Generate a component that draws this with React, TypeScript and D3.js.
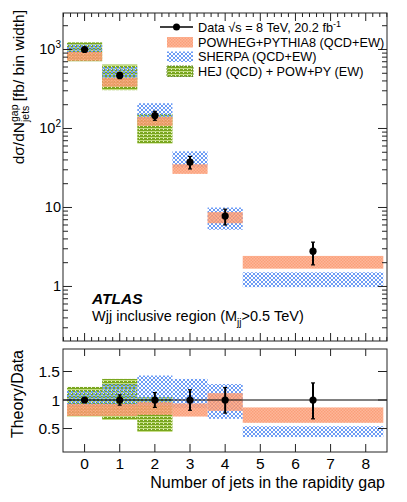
import React from 'react';
import * as d3 from 'd3';

// ---------- data ----------
const binLo = [-0.5, 0.5, 1.5, 2.5, 3.5, 4.5];
const binHi = [0.5, 1.5, 2.5, 3.5, 4.5, 8.5];
const binCenter = [0, 1, 2, 3, 4, 6.5];
const dataValues = [1000, 470, 146, 37.5, 7.8, 2.8];
const dataErrUp = [0.03, 0.09, 0.13, 0.18, 0.22, 0.3];
const dataErrDn = [0.03, 0.09, 0.13, 0.18, 0.23, 0.33];
// theory / data ratio bands
const powhegLo = [0.72, 0.72, 0.74, 0.71, 0.81, 0.6];
const powhegHi = [0.93, 0.93, 0.96, 0.94, 1.12, 0.87];
const sherpaLo = [0.9, 0.9, 0.9, 0.86, 0.67, 0.35];
const sherpaHi = [1.16, 1.28, 1.43, 1.37, 1.28, 0.54];
const hejLo = [0.71, 0.65, 0.44];
const hejHi = [1.23, 1.37, 1.05];
const xTickLabels = ['0', '1', '2', '3', '4', '5', '6', '7', '8'];
const mainYTicks = [1, 10, 100, 1000];
const mainYTickExp = ['', '', '2', '3'];
const ratioYTicks = [0.5, 1, 1.5];
const ratioYTickLabels = ['0.5', '1', '1.5'];
const legendLabels = ['POWHEG+PYTHIA8 (QCD+EW)', 'SHERPA (QCD+EW)', 'HEJ (QCD) + POW+PY (EW)'];

const FONT = "'Liberation Sans', Arial, Helvetica, sans-serif";

export default function App() {
  const W = 407, H = 502;
  const L = 63, R = 387;
  const mT = 13, mB = 341;
  const rT = 349, rB = 452;

  const x = d3.scaleLinear().domain([-0.614, 8.605]).range([L, R]);
  const y = d3.scaleLog().domain([0.204, 2897]).range([mB, mT]);
  const yr = d3.scaleLinear().domain([0.088, 1.895]).range([rB, rT]);

  const minorX = d3.range(-6, 87).map((i) => i / 10).filter((v) => Math.abs(v * 5 - Math.round(v * 5)) < 1e-6);
  const minorY: number[] = [];
  [0.1, 1, 10, 100, 1000].forEach((d) => {
    for (let k = 2; k <= 9; k++) {
      const v = d * k;
      if (v > 0.204 && v < 2897) minorY.push(v);
    }
  });

  const frame = '#222';
  const idx = d3.range(binLo.length);
  const hejIdx = d3.range(hejLo.length);

  const band = (key: string, lo: number, hi: number, i: number, ys: any, scaleVal: number, fill: string, op = 1) => (
    <rect
      key={key}
      x={x(binLo[i])}
      width={x(binHi[i]) - x(binLo[i])}
      y={ys(hi * scaleVal)}
      height={ys(lo * scaleVal) - ys(hi * scaleVal)}
      fill={fill}
      opacity={op}
    />
  );

  const dataMarks = (ys: any, main: boolean) =>
    idx.map((i) => {
      const v = main ? dataValues[i] : 1;
      const cx = x(binCenter[i]);
      const yu = ys(v * (1 + dataErrUp[i]));
      const yd = ys(v * (1 - dataErrDn[i]));
      return (
        <g key={'d' + i}>
          <line x1={cx} x2={cx} y1={yu} y2={yd} stroke="#000" strokeWidth={2} />
          <line x1={cx - 2} x2={cx + 2} y1={yu} y2={yu} stroke="#000" strokeWidth={1.2} />
          <line x1={cx - 2} x2={cx + 2} y1={yd} y2={yd} stroke="#000" strokeWidth={1.2} />
          <circle cx={cx} cy={ys(v)} r={3.6} fill="#000" />
        </g>
      );
    });

  return (
    <svg width={W} height={H} style={{ position: 'absolute', left: 0, top: 0, background: '#fff' }} fontFamily={FONT}>
      <defs>
        <pattern id="pOrange" width={3} height={3} patternUnits="userSpaceOnUse">
          <rect width={3} height={3} fill="#fdaa87" />
          <rect width={1.5} height={1.5} fill="#f98e63" />
          <rect x={1.5} y={1.5} width={1.5} height={1.5} fill="#f98e63" />
        </pattern>
        <pattern id="pBlue" width={4} height={4} patternUnits="userSpaceOnUse">
          <path d="M0,0 L4,4 M4,0 L0,4" stroke="#6d9cf5" strokeWidth={1} />
        </pattern>
        <pattern id="pGreen" width={4} height={3} patternUnits="userSpaceOnUse">
          <rect width={4} height={3} fill="#79a61e" />
          <rect y={2} width={4} height={1} fill="#c3dd80" />
          <rect x={3} width={1} height={1} fill="#e8f2cf" />
        </pattern>
      </defs>

      {/* ---------- main panel ---------- */}
      <g>
        {hejIdx.map((i) => band('mh' + i, hejLo[i], hejHi[i], i, y, dataValues[i], 'url(#pGreen)'))}
        {idx.map((i) => band('ms' + i, sherpaLo[i], sherpaHi[i], i, y, dataValues[i], 'url(#pBlue)'))}
        {idx.map((i) => band('mp' + i, powhegLo[i], powhegHi[i], i, y, dataValues[i], 'url(#pOrange)', 0.85))}
        {dataMarks(y, true)}

        {/* frame */}
        <rect x={L} y={mT} width={R - L} height={mB - mT} fill="none" stroke={frame} strokeWidth={1} />
        {/* x ticks top & bottom */}
        {minorX.map((v, i) => {
          const major = Math.abs(v - Math.round(v)) < 1e-6;
          const len = major ? 8 : 4;
          const xx = x(v);
          return (
            <g key={'mx' + i} stroke={frame} strokeWidth={1}>
              <line x1={xx} x2={xx} y1={mB} y2={mB - len} />
              <line x1={xx} x2={xx} y1={mT} y2={mT + len} />
            </g>
          );
        })}
        {/* y ticks */}
        {mainYTicks.map((v, i) => (
          <g key={'my' + i} stroke={frame} strokeWidth={1}>
            <line x1={L} x2={L + 9} y1={y(v)} y2={y(v)} />
            <line x1={R} x2={R - 9} y1={y(v)} y2={y(v)} />
          </g>
        ))}
        {minorY.map((v, i) => (
          <g key={'myn' + i} stroke={frame} strokeWidth={1}>
            <line x1={L} x2={L + 5} y1={y(v)} y2={y(v)} />
            <line x1={R} x2={R - 5} y1={y(v)} y2={y(v)} />
          </g>
        ))}
        {mainYTicks.map((v, i) => (
          <text key={'myl' + i} x={L - 2} y={y(v) + 5} textAnchor="end" fontSize={14.5}>
            {mainYTickExp[i] ? (
              <>
                10<tspan dy={-6} fontSize={10}>{mainYTickExp[i]}</tspan>
              </>
            ) : (
              String(v)
            )}
          </text>
        ))}

        {/* y title */}
        <text transform="translate(24,10) rotate(-90)" textAnchor="end" fontSize={15.5}>
          <tspan>dσ/dN</tspan>
          <tspan dy={-6} fontSize={10.5}>gap</tspan>
          <tspan dx={-17.5} dy={11} fontSize={10.5}>jets</tspan>
          <tspan dy={-5}>{' [fb/ bin width]'}</tspan>
        </text>

        {/* legend */}
        <line x1={160} x2={193} y1={27} y2={27} stroke="#000" strokeWidth={1.5} />
        <circle cx={176.5} cy={27} r={3.5} fill="#000" />
        <text x={198} y={31.5} fontSize={12.7}>
          Data √s = 8 TeV, 20.2 fb<tspan dy={-5} fontSize={9}>-1</tspan>
        </text>
        <rect x={167} y={37} width={26} height={10.5} fill="url(#pOrange)" opacity={0.85} />
        <rect x={167} y={51.5} width={26} height={10.5} fill="url(#pBlue)" />
        <rect x={167} y={66} width={26} height={10.5} fill="url(#pGreen)" stroke="#4f7a10" strokeWidth={0.8} strokeDasharray="2,1" />
        {legendLabels.map((t, i) => (
          <text key={'lg' + i} x={198} y={46.5 + i * 14.5} fontSize={12.7}>
            {t}
          </text>
        ))}

        {/* ATLAS label */}
        <text x={92} y={303.5} fontSize={15.5} fontWeight="bold" fontStyle="italic">
          ATLAS
        </text>
        <text x={92} y={321} fontSize={14.5}>
          Wjj inclusive region (M<tspan dy={5} fontSize={10}>jj</tspan>
          <tspan dy={-5}>&gt;0.5 TeV)</tspan>
        </text>
      </g>

      {/* ---------- ratio panel ---------- */}
      <g>
        {hejIdx.map((i) => band('rh' + i, hejLo[i], hejHi[i], i, yr, 1, 'url(#pGreen)'))}
        {idx.map((i) => band('rs' + i, sherpaLo[i], sherpaHi[i], i, yr, 1, 'url(#pBlue)'))}
        {idx.map((i) => band('rp' + i, powhegLo[i], powhegHi[i], i, yr, 1, 'url(#pOrange)', 0.85))}
        <line x1={L} x2={R} y1={yr(1)} y2={yr(1)} stroke="#000" strokeWidth={1} />
        {dataMarks(yr, false)}

        <rect x={L} y={rT} width={R - L} height={rB - rT} fill="none" stroke={frame} strokeWidth={1} />
        {xTickLabels.map((t, i) => {
          const xx = x(i);
          return (
            <g key={'rx' + i}>
              <line x1={xx} x2={xx} y1={rB} y2={rB - 8} stroke={frame} />
              <line x1={xx} x2={xx} y1={rT} y2={rT + 7} stroke={frame} />
              <text x={xx} y={rB + 17} textAnchor="middle" fontSize={15.5}>
                {t}
              </text>
            </g>
          );
        })}
        {ratioYTicks.map((v, i) => (
          <g key={'ry' + i}>
            <line x1={L} x2={L + 9} y1={yr(v)} y2={yr(v)} stroke={frame} />
            <line x1={R} x2={R - 9} y1={yr(v)} y2={yr(v)} stroke={frame} />
            <text x={L - 3} y={yr(v) + 5.5} textAnchor="end" fontSize={15.5}>
              {ratioYTickLabels[i]}
            </text>
          </g>
        ))}
        <text transform={`translate(23,${rT + 1}) rotate(-90)`} textAnchor="end" fontSize={16}>
          Theory/Data
        </text>
        <text x={385} y={488} textAnchor="end" fontSize={16}>
          Number of jets in the rapidity gap
        </text>
      </g>
    </svg>
  );
}
